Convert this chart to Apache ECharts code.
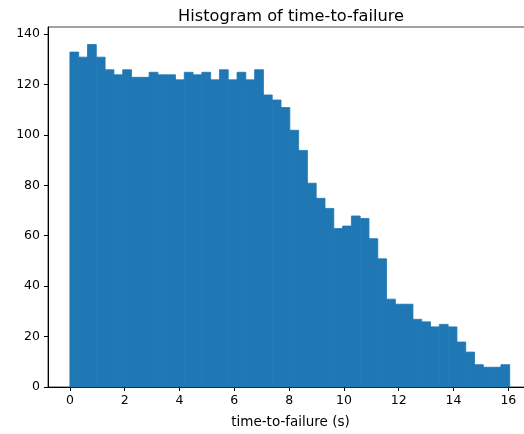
<!DOCTYPE html>
<html><head><meta charset="utf-8">
<script src="https://cdn.jsdelivr.net/npm/echarts@6/dist/echarts.min.js"></script>
<style>html,body{margin:0;padding:0;background:#fff}#c{width:524px;height:434px}</style>
</head><body><div id="c"></div>
<script>
const counts = [133,131,136,131,126,124,126,123,123,125,124,124,122,125,124,125,122,126,122,125,122,126,116,114,111,102,94,81,75,71,63,64,68,67,59,51,35,33,33,27,26,24,25,24,18,14,9,8,8,9];
const binStart = 0;
const binWidth = 0.321;
const xTicks = [0,2,4,6,8,10,12,14,16];
const yTicks = [0,20,40,60,80,100,120,140];

const data = counts.map((c,i)=>[binStart+i*binWidth, binStart+(i+1)*binWidth, c]);
const chart = echarts.init(document.getElementById('c'));
const font = 'DejaVu Sans';
chart.setOption({
  animation:false,
  title:{text:'Histogram of time-to-failure',left:286,top:4,textAlign:'center',
    textStyle:{fontFamily:font,fontSize:16.2,fontWeight:'normal',color:'#000'}},
  grid:{left:48,top:27,width:485,height:360,show:true,borderColor:'#444',borderWidth:1,
    backgroundColor:'transparent',outerBoundsMode:'none',containLabel:false},
  xAxis:{type:'value',min:-0.8,max:16.9,
    name:'time-to-failure (s)',nameLocation:'middle',nameGap:28,
    nameTextStyle:{fontFamily:font,fontSize:13.5,color:'#000'},
    splitLine:{show:false},
    axisLine:{show:true,onZero:false,lineStyle:{color:'#000',width:1}},
    axisTick:{show:true,length:4,customValues:xTicks,lineStyle:{color:'#000'}},
    axisLabel:{customValues:xTicks,fontFamily:font,fontSize:12.5,color:'#000',margin:7}},
  yAxis:{type:'value',min:0,max:142.8,
    splitLine:{show:false},
    axisLine:{show:true,onZero:false,lineStyle:{color:'#000',width:1}},
    axisTick:{show:true,length:4,customValues:yTicks,lineStyle:{color:'#000'}},
    axisLabel:{customValues:yTicks,fontFamily:font,fontSize:12.5,color:'#000',margin:8}},
  series:[{type:'custom',data:data,encode:{x:[0,1],y:2},
    renderItem:function(params,api){
      const p0=api.coord([api.value(0),api.value(2)]);
      const p1=api.coord([api.value(1),0]);
      return {type:'rect',shape:{x:p0[0],y:p0[1]+0.4,width:p1[0]-p0[0],height:p1[1]-p0[1]-0.4},
        style:{fill:'#1f77b4',stroke:'#1f77b4',lineWidth:0.8}};
    }}]
});
</script></body></html>
